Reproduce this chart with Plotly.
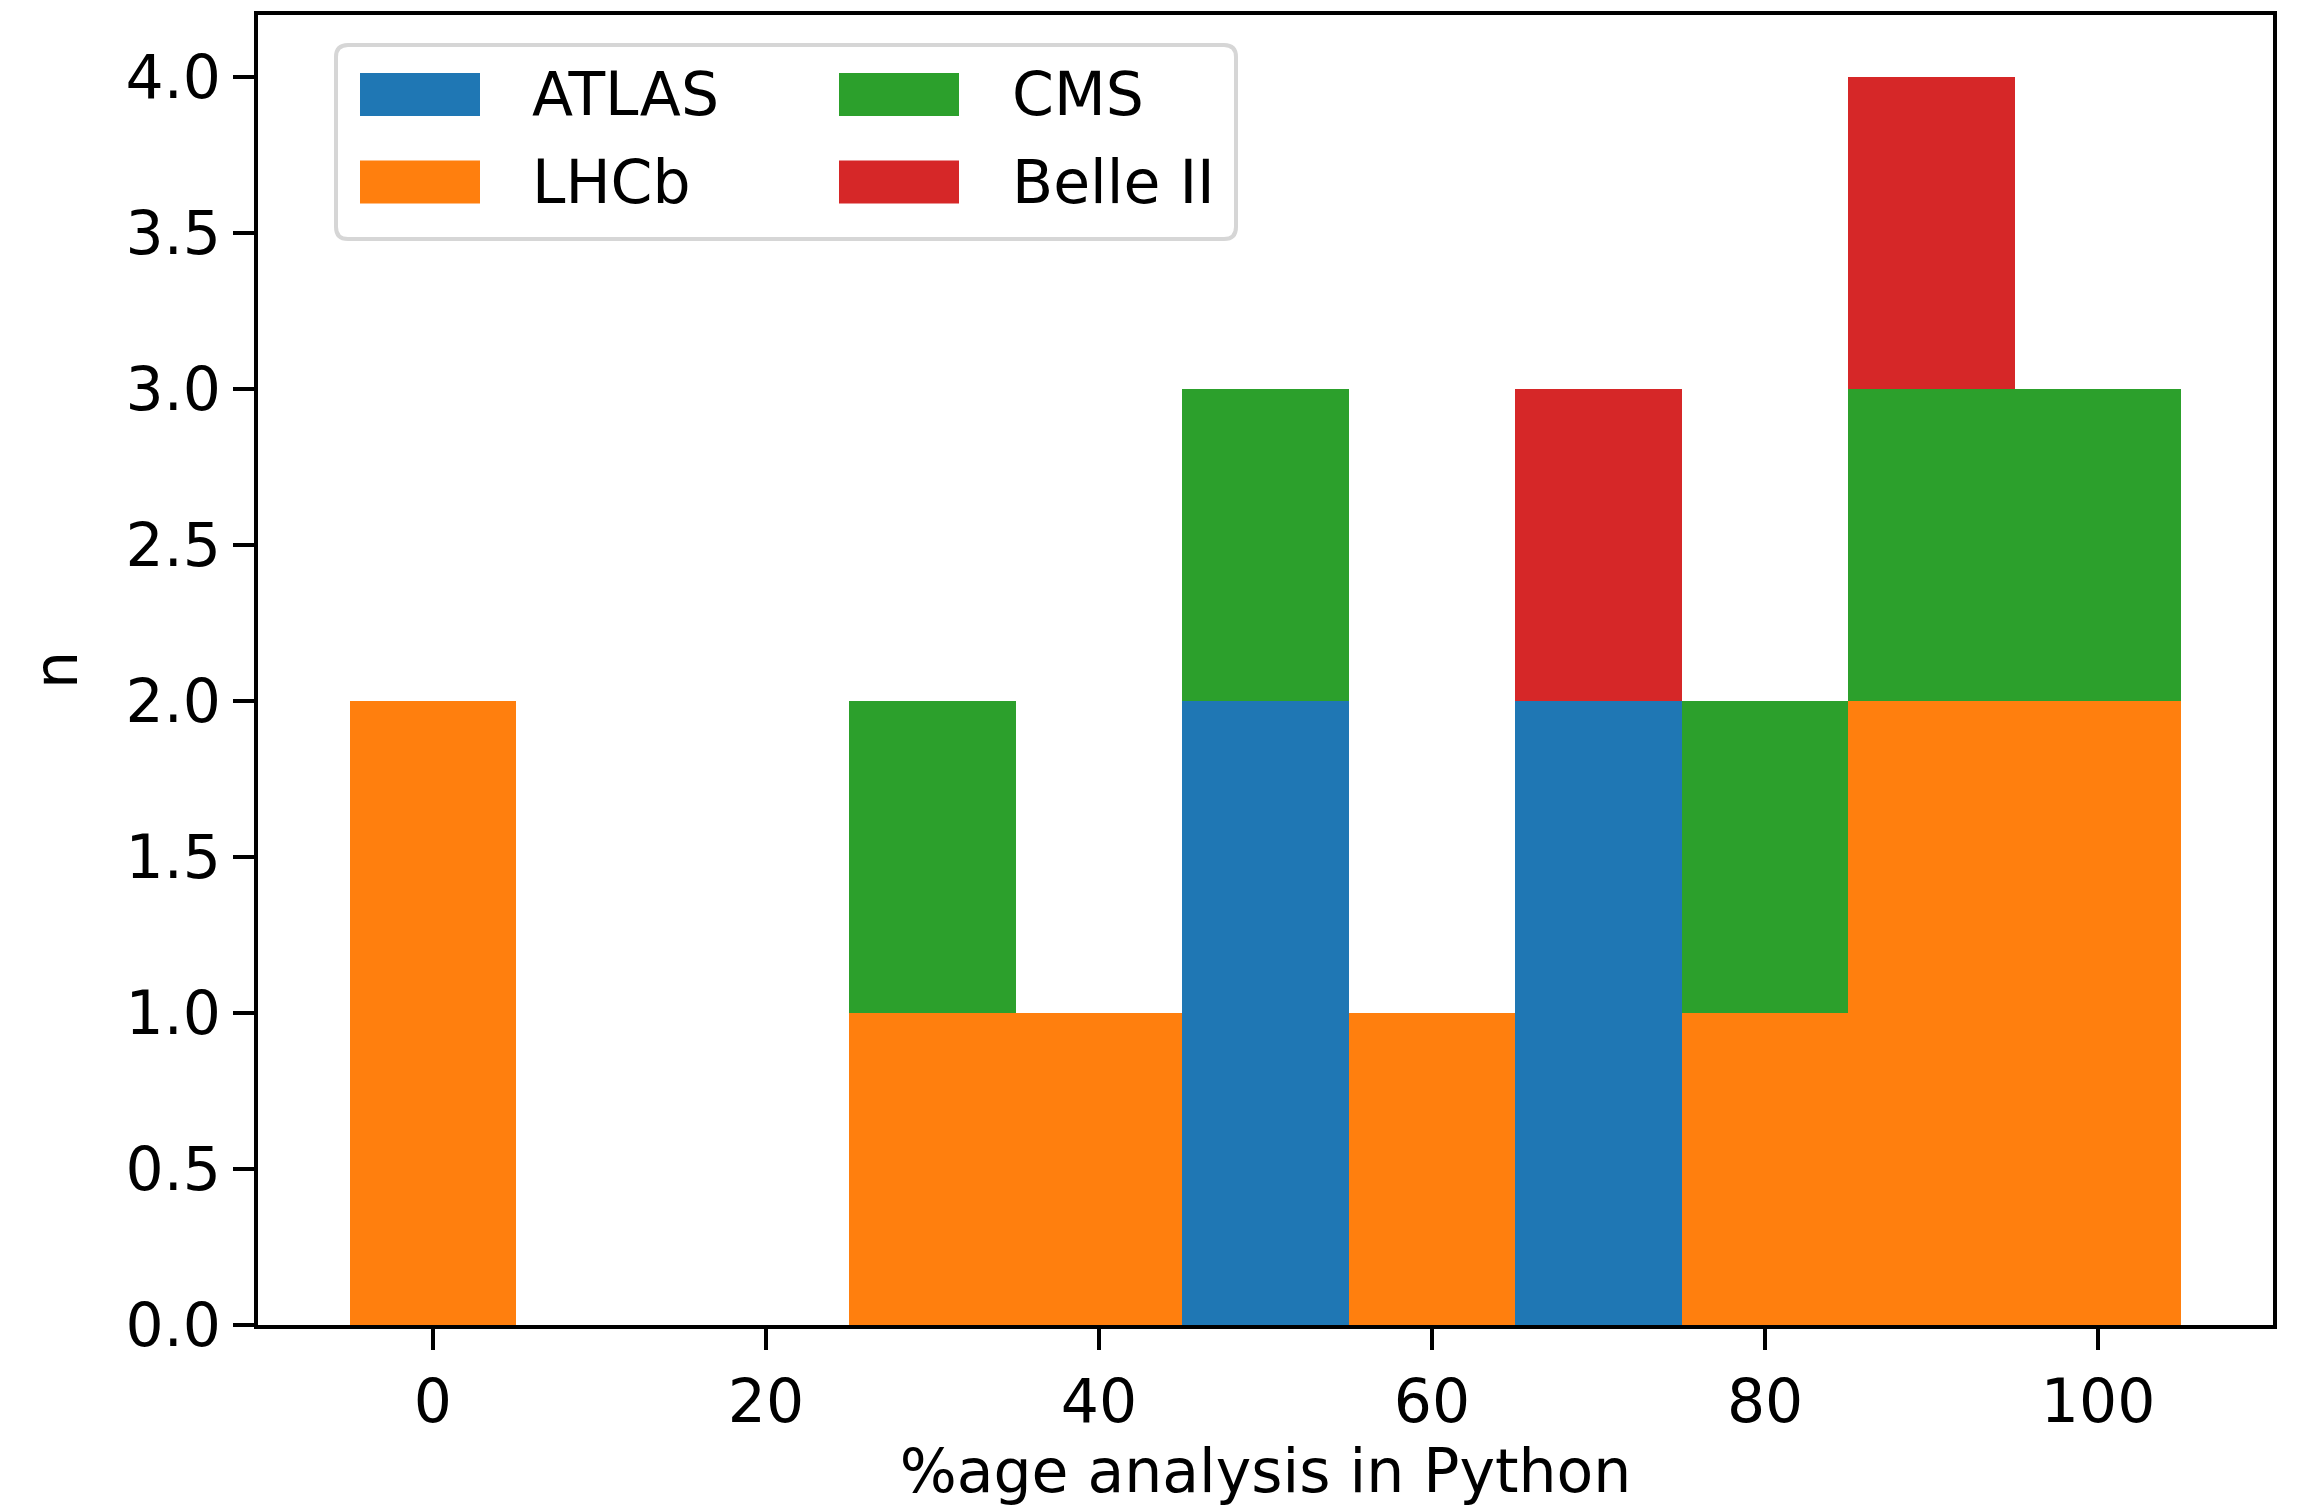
import plotly.graph_objects as go

# ---- data ----
bin_centers = [0, 10, 20, 30, 40, 50, 60, 70, 80, 90, 100]
bin_width = 10
series_names = ["ATLAS", "LHCb", "CMS", "Belle II"]
atlas = [0, 0, 0, 0, 0, 2, 0, 2, 0, 0, 0]
lhcb = [2, 0, 0, 1, 1, 0, 1, 0, 1, 2, 2]
cms = [0, 0, 0, 1, 0, 1, 0, 0, 1, 1, 1]
belle2 = [0, 0, 0, 0, 0, 0, 0, 1, 0, 1, 0]
colors = ["#1f77b4", "#ff7f0e", "#2ca02c", "#d62728"]
x_ticks = [0, 20, 40, 60, 80, 100]
y_ticks = [0.0, 0.5, 1.0, 1.5, 2.0, 2.5, 3.0, 3.5, 4.0]
x_title = "%age analysis in Python"
y_title = "n"

W, H = 2301, 1507
L, R, T, B = 258, 28, 15, 182
PW, PH = W - L - R, H - T - B
FONT = "DejaVu Sans"
FS = 60

fig = go.Figure()
for name, vals, col in zip(series_names, [atlas, lhcb, cms, belle2], colors):
    fig.add_trace(go.Bar(
        x=bin_centers, y=vals, width=bin_width, name=name,
        marker=dict(color=col, line=dict(width=0)), showlegend=False,
    ))

axis_common = dict(
    showline=True, linecolor="black", linewidth=4, mirror=True,
    ticks="outside", ticklen=21, tickwidth=4, tickcolor="black",
    showgrid=False, zeroline=False,
    tickfont=dict(family=FONT, size=FS, color="black"),
)
fig.update_xaxes(range=[-10.5, 110.5], tickvals=x_ticks,
                 ticktext=[str(v) for v in x_ticks],
                 title=dict(text=x_title, font=dict(family=FONT, size=FS, color="black"), standoff=16),
                 **axis_common)
fig.update_yaxes(range=[0, 4.2], tickvals=y_ticks,
                 ticktext=[f"{v:.1f}" for v in y_ticks],
                 title=dict(text=y_title, font=dict(family=FONT, size=FS, color="black"), standoff=30),
                 **axis_common)

# ---- legend drawn as shapes/annotations (matplotlib-style, 2 columns) ----
def px_x(p):
    return (p - L) / PW

def px_y(p):
    return (H - B - p) / PH

fx0, fy0, fx1, fy1, rad = 336, 45, 1236, 239, 12
rx, ry = rad / PW, rad / PH
X0, X1, Y0, Y1 = px_x(fx0), px_x(fx1), px_y(fy1), px_y(fy0)
path = (f"M{X0+rx},{Y1} L{X1-rx},{Y1} Q{X1},{Y1} {X1},{Y1-ry} "
        f"L{X1},{Y0+ry} Q{X1},{Y0} {X1-rx},{Y0} L{X0+rx},{Y0} "
        f"Q{X0},{Y0} {X0},{Y0+ry} L{X0},{Y1-ry} Q{X0},{Y1} {X0+rx},{Y1} Z")
fig.add_shape(type="path", path=path, xref="paper", yref="paper",
              line=dict(color="#d6d6d6", width=4), fillcolor="rgba(255,255,255,0.8)", layer="above")

col_patch_x = [360, 839]
col_text_x = [530, 1010]
row_cy = [94.5, 182]
patch_w, patch_h = 120, 43
for i, (name, col) in enumerate(zip(series_names, colors)):
    c, r = i // 2, i % 2
    px0 = col_patch_x[c]
    cy = row_cy[r]
    fig.add_shape(type="rect", xref="paper", yref="paper",
                  x0=px_x(px0), x1=px_x(px0 + patch_w),
                  y0=px_y(cy + patch_h / 2), y1=px_y(cy - patch_h / 2),
                  fillcolor=col, line=dict(width=0), layer="above")
    fig.add_annotation(x=px_x(col_text_x[c]), y=px_y(cy), xref="paper", yref="paper",
                       text=name, showarrow=False, xanchor="left", yanchor="middle",
                       font=dict(family=FONT, size=FS, color="black"))

fig.update_layout(
    width=W, height=H, barmode="stack", bargap=0,
    margin=dict(l=L, r=R, t=T, b=B, pad=0),
    paper_bgcolor="white", plot_bgcolor="white",
    font=dict(family=FONT, size=FS, color="black"),
)

fig.write_html("out.html")
